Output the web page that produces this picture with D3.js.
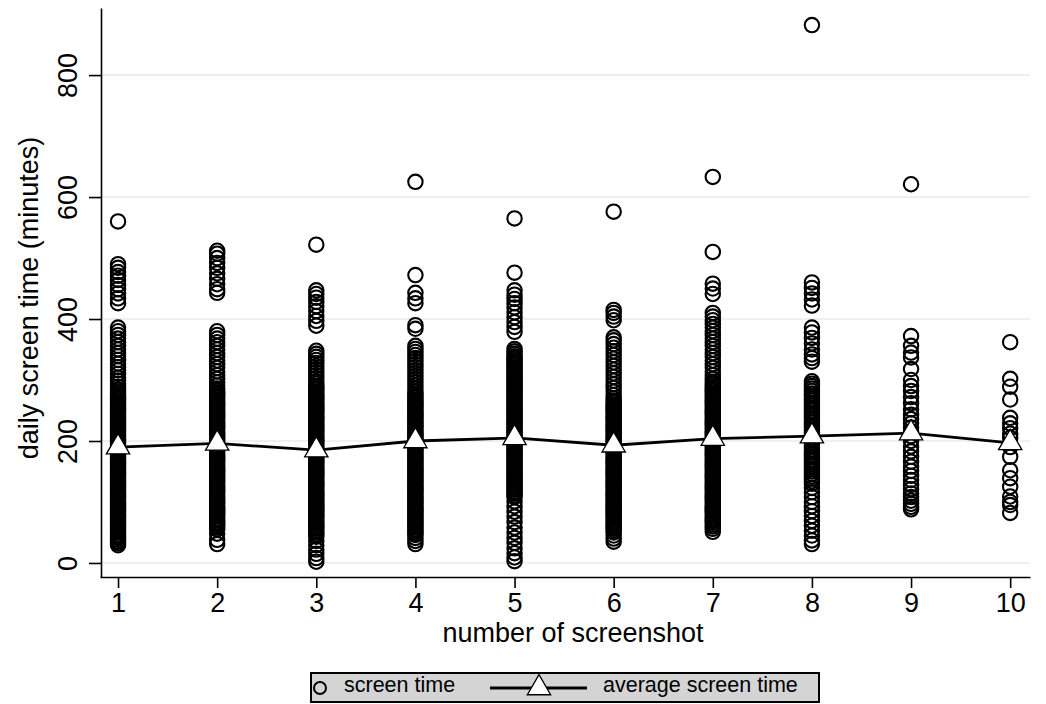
<!DOCTYPE html>
<html lang="en">
<head>
    <meta charset="UTF-8">
    <title>Daily screen time by number of screenshot</title>
    <script src="https://d3js.org/d3.v7.min.js"></script>
    <style>
        body { margin: 0; background: #fff; }
        svg text { font-family: "Liberation Sans", Arial, Helvetica, sans-serif; fill: #000; }
    </style>
</head>
<body>
    <svg id="chart"></svg>

    <script>
        // screenshot numbers (x categories)
        const screenshots = [1, 2, 3, 4, 5, 6, 7, 8, 9, 10];

        // daily screen time (minutes) per screenshot
        const shot1 = [560, 490, 484, 477, 471, 464, 456, 449, 442, 434, 426,
            386, 380, 374, 368, 362, 356, 350, 344, 339, 333, 327, 321, 316, 310, 304, 299, 294, 289,
            284, 281, 278, 275, 272, 269, 266, 263, 260, 257, 254, 251, 248, 245, 242, 239, 236, 233,
            230, 227, 224, 221, 218, 215, 212, 209, 206, 203, 200, 197, 194, 191, 188, 185, 182, 179,
            176, 173, 170, 167, 164, 161, 158, 155, 152, 149, 146, 143, 140, 137, 134, 131, 128, 125,
            122, 119, 116, 113, 110, 107, 104, 101, 98, 95, 92, 89, 86, 83, 80, 77, 74, 71, 68, 65,
            62, 59, 56, 53, 50, 47, 44, 41, 38, 35, 32, 29];
        const shot2 = [512, 507, 500, 492, 484, 475, 466, 457, 449, 443,
            380, 374, 368, 362, 356, 350, 344, 338, 332, 326, 320, 314, 308, 302, 296, 291,
            286, 283, 280, 277, 274, 271, 268, 265, 262, 259, 256, 253, 250, 247, 244, 241, 238, 235,
            232, 229, 226, 223, 220, 217, 214, 211, 208, 205, 202, 199, 196, 193, 190, 187, 184, 181,
            178, 175, 172, 169, 166, 163, 160, 157, 154, 151, 148, 145, 142, 139, 136, 133, 130, 127,
            124, 121, 118, 115, 112, 109, 106, 103, 100, 97, 94, 91, 88, 85, 82, 79, 76, 73, 70, 67,
            64, 61, 58, 55, 48, 38, 31];
        const shot3 = [522, 447, 441, 435, 428, 421, 413, 405, 397, 389,
            348, 343, 338, 333, 328, 323, 318, 313, 308, 303, 298, 294,
            290, 287, 284, 281, 278, 275, 272, 269, 266, 263, 260, 257, 254, 251, 248, 245, 242, 239,
            236, 233, 230, 227, 224, 221, 218, 215, 212, 209, 206, 203, 200, 197, 194, 191, 188, 185,
            182, 179, 176, 173, 170, 167, 164, 161, 158, 155, 152, 149, 146, 143, 140, 137, 134, 131,
            128, 125, 122, 119, 116, 113, 110, 107, 104, 101, 98, 95, 92, 89, 86, 83, 80, 77, 74, 71,
            68, 65, 62, 59, 56, 53, 50, 47, 43, 36, 29, 22, 15, 8, 2];
        const shot4 = [625, 472, 443, 434, 426, 390, 384,
            356, 351, 346, 341, 336, 331, 326, 321, 316, 311, 306, 301, 296, 291, 286, 281, 277,
            274, 271, 268, 265, 262, 259, 256, 253, 250, 247, 244, 241, 238, 235, 232, 229, 226, 223,
            220, 217, 214, 211, 208, 205, 202, 199, 196, 193, 190, 187, 184, 181, 178, 175, 172, 169,
            166, 163, 160, 157, 154, 151, 148, 145, 142, 139, 136, 133, 130, 127, 124, 121, 118, 115,
            112, 109, 106, 103, 100, 97, 94, 91, 88, 85, 82, 79, 76, 73, 70, 67, 64, 61, 58, 55, 52,
            49, 46, 41, 36, 31];
        const shot5 = [565, 476, 447, 440, 433, 426, 419, 411, 403, 395, 387, 379,
            351, 347, 343, 339, 336, 333, 330, 327, 324, 321, 318, 315, 312, 309, 306, 303, 300, 297,
            294, 291, 288, 285, 282, 279, 276, 273, 270, 267, 264, 261, 258, 255, 252, 249, 246, 243,
            240, 237, 234, 231, 228, 225, 222, 219, 216, 213, 210, 207, 204, 201, 198, 195, 192, 189,
            186, 183, 180, 177, 174, 171, 168, 165, 162, 159, 156, 153, 150, 147, 144, 141, 138, 135,
            132, 129, 126, 123, 120, 117, 114, 111, 108,
            101, 93, 84, 76, 67, 58, 50, 41, 33, 24, 16, 9, 3];
        const shot6 = [576, 415, 410, 404, 398,
            370, 365, 359, 353, 347, 341, 335, 329, 323, 317, 311, 305, 299, 293, 287, 281, 275, 270,
            266, 263, 260, 257, 254, 251, 248, 245, 242, 239, 236, 233, 230, 227, 224, 221, 218, 215,
            212, 209, 206, 203, 200, 197, 194, 191, 188, 185, 182, 179, 176, 173, 170, 167, 164, 161,
            158, 155, 152, 149, 146, 143, 140, 137, 134, 131, 128, 125, 122, 119, 116, 113, 110, 107,
            104, 101, 98, 95, 92, 89, 86, 83, 80, 77, 74, 71, 68, 65, 62, 59, 56, 53, 50, 45, 40, 35];
        const shot7 = [633, 510, 458, 450, 441,
            410, 404, 398, 392, 386, 380, 374, 368, 362, 356, 350, 344, 338, 332, 326, 320, 314, 308, 302,
            297, 294, 291, 288, 285, 282, 279, 276, 273, 270, 267, 264, 261, 258, 255, 252, 249, 246,
            243, 240, 237, 234, 231, 228, 225, 222, 219, 216, 213, 210, 207, 204, 201, 198, 195, 192,
            189, 186, 183, 180, 177, 174, 171, 168, 165, 162, 159, 156, 153, 150, 147, 144, 141, 138,
            135, 132, 129, 126, 123, 120, 117, 114, 111, 108, 105, 102, 99, 96, 93, 90, 87, 84, 81,
            78, 75, 72, 69, 66, 63, 60, 56, 51];
        const shot8 = [882, 460, 451, 442, 432, 422,
            386, 378, 369, 360, 350, 342, 336, 330,
            298, 294, 290, 286, 282, 278, 274, 270, 266, 262, 258, 254, 250, 246, 242, 238, 234, 230,
            226, 222, 218, 214, 210, 206, 202, 198, 194, 190, 186, 182, 178, 174, 170, 166, 162, 158,
            154, 150, 146, 142, 138, 134, 130,
            123, 116, 108, 100, 93, 85, 77, 69, 61, 53, 45, 37, 31];
        const shot9 = [621, 372, 356, 345, 337, 318, 300, 290, 282, 272, 262, 252, 243, 236, 229, 222,
            216, 208, 200, 191, 183, 174, 166, 158, 151, 143, 136, 128, 121, 114, 108, 102, 97, 92, 88];
        const shot10 = [362, 302, 289, 268, 238, 229, 221, 212, 205, 190, 174, 152, 139, 125, 109, 100, 95, 82];

        const screenTime = [shot1, shot2, shot3, shot4, shot5, shot6, shot7, shot8, shot9, shot10];

        // average screen time per screenshot
        const averageTime = [190, 196, 185, 200, 205, 193, 204, 208, 213, 197];

        // axis ticks and labels
        const yTicks = [0, 200, 400, 600, 800];
        const xTicks = [1, 2, 3, 4, 5, 6, 7, 8, 9, 10];

        const width = 1046, height = 704;
        const fontSize = 27;

        const svg = d3.select("#chart")
            .attr("width", width)
            .attr("height", height);

        const x = d3.scaleLinear().domain([0.818, 10.2]).range([100, 1030]);
        const y = d3.scaleLinear().domain([-23, 910]).range([577, 8]);

        // gridlines
        svg.append("g")
            .selectAll("line")
            .data(yTicks)
            .enter().append("line")
            .attr("x1", x.range()[0])
            .attr("x2", x.range()[1])
            .attr("y1", d => y(d))
            .attr("y2", d => y(d))
            .attr("stroke", "#e6eef1")
            .attr("stroke-width", 1.6);

        // scatter points
        const points = [];
        screenTime.forEach((vals, i) => vals.forEach(v => points.push({ shot: screenshots[i], time: v })));

        svg.append("g")
            .selectAll("circle")
            .data(points)
            .enter().append("circle")
            .attr("cx", d => x(d.shot))
            .attr("cy", d => y(d.time))
            .attr("r", 7.2)
            .attr("fill", "none")
            .attr("stroke", "#000")
            .attr("stroke-width", 2.1);

        // average line
        const avg = screenshots.map((s, i) => ({ shot: s, time: averageTime[i] }));

        svg.append("path")
            .datum(avg)
            .attr("fill", "none")
            .attr("stroke", "#000")
            .attr("stroke-width", 2.8)
            .attr("d", d3.line().x(d => x(d.shot)).y(d => y(d.time)));

        const tri = d3.symbol().type(d3.symbolTriangle).size(235);

        svg.append("g")
            .selectAll("path")
            .data(avg)
            .enter().append("path")
            .attr("d", tri)
            .attr("transform", d => `translate(${x(d.shot)},${y(d.time)})`)
            .attr("fill", "#fff")
            .attr("stroke", "#000")
            .attr("stroke-width", 1.3);

        // y axis
        const yAxis = svg.append("g")
            .attr("transform", "translate(101,0)")
            .call(d3.axisLeft(y).tickValues(yTicks).tickSize(12).tickSizeOuter(0).tickFormat(d3.format("d")));
        yAxis.selectAll("path, line").attr("stroke", "#000").attr("stroke-width", 1.6);
        yAxis.selectAll("text")
            .attr("x", 0)
            .attr("y", -24)
            .attr("dy", 0)
            .attr("transform", "rotate(-90)")
            .attr("text-anchor", "middle")
            .style("font-size", fontSize + "px")
            .style("font-family", "'Liberation Sans', Arial, sans-serif");

        // x axis
        const xAxis = svg.append("g")
            .attr("transform", "translate(0,577)")
            .call(d3.axisBottom(x).tickValues(xTicks).tickSize(11).tickSizeOuter(0).tickFormat(d3.format("d")));
        xAxis.selectAll("path, line").attr("stroke", "#000").attr("stroke-width", 1.6);
        xAxis.selectAll("text")
            .attr("y", 35)
            .attr("dy", 0)
            .style("font-size", fontSize + "px")
            .style("font-family", "'Liberation Sans', Arial, sans-serif");

        // axis titles
        svg.append("text")
            .attr("x", 573)
            .attr("y", 642)
            .attr("text-anchor", "middle")
            .style("font-size", fontSize + "px")
            .text("number of screenshot");

        svg.append("text")
            .attr("transform", "translate(38,298) rotate(-90)")
            .attr("text-anchor", "middle")
            .style("font-size", fontSize + "px")
            .text("daily screen time (minutes)");

        // legend
        const legend = svg.append("g");
        legend.append("rect")
            .attr("x", 311).attr("y", 673)
            .attr("width", 508).attr("height", 29)
            .attr("fill", "#d4d4d4")
            .attr("stroke", "#000")
            .attr("stroke-width", 2);

        legend.append("circle")
            .attr("cx", 320).attr("cy", 688).attr("r", 6)
            .attr("fill", "none").attr("stroke", "#000").attr("stroke-width", 2);
        legend.append("text")
            .attr("x", 344).attr("y", 692)
            .style("font-size", "21.5px")
            .text("screen time");

        legend.append("line")
            .attr("x1", 490).attr("x2", 587)
            .attr("y1", 688).attr("y2", 688)
            .attr("stroke", "#000").attr("stroke-width", 2.8);
        legend.append("path")
            .attr("d", tri)
            .attr("transform", "translate(539,688)")
            .attr("fill", "#fff").attr("stroke", "#000").attr("stroke-width", 1.3);
        legend.append("text")
            .attr("x", 603).attr("y", 692)
            .style("font-size", "21.5px")
            .text("average screen time");
    </script>
</body>
</html>
